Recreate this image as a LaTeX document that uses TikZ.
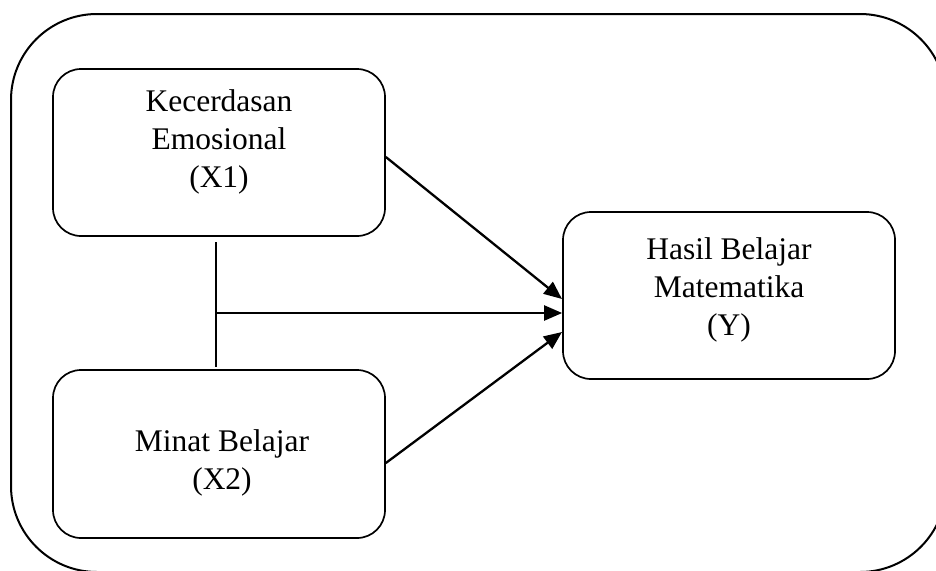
\documentclass[tikz,border=0pt]{standalone}
\usepackage{fontspec}
\setmainfont{Liberation Serif}
\usetikzlibrary{arrows.meta}
\begin{document}
\begin{tikzpicture}[x=1pt,y=-1pt,
  boxstyle/.style={draw,line width=1.7pt,rounded corners=28pt,inner sep=0pt},
  txt/.style={align=center,font=\fontsize{31.5}{38}\selectfont,inner sep=0pt},
  arr/.style={line width=2.3pt,-{Triangle[length=18pt,width=15pt]}},
  plain/.style={line width=2pt}]
\useasboundingbox (0,0) rectangle (936,570);
\begin{scope}
\clip (0,0) rectangle (936,570);
\draw[line width=2pt,rounded corners=86pt] (11,14) rectangle (946,572);
\end{scope}
\node[boxstyle,minimum width=332pt,minimum height=167pt] (x1) at (219,152.5) {};
\node[boxstyle,minimum width=332pt,minimum height=168pt] (x2) at (219,454) {};
\node[boxstyle,minimum width=332pt,minimum height=167pt] (y) at (729,295.5) {};
\node[txt] (t1) at (219,142) {Kecerdasan\\Emosional\\(X1)};
\node[txt] (t2) at (222,463) {Minat Belajar\\(X2)};
\node[txt] (t3) at (729,290) {Hasil Belajar\\Matematika\\(Y)};
\coordinate (vtop) at (216,242);
\coordinate (vbot) at (216,367);
\coordinate (vmid) at (216,313);
\draw[plain] (vtop) -- (vbot);
\draw[arr] (vmid) -- (y.west |- vmid);
\draw[arr] (x1.east |- 0,157) -- (562,299);
\draw[arr] (x2.east |- 0,463) -- (562,332);
\end{tikzpicture}
\end{document}
